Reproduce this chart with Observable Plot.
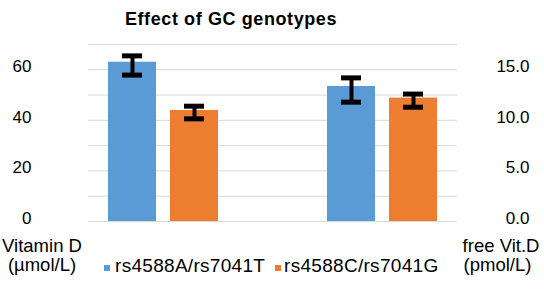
<!DOCTYPE html>
<html><head><meta charset="utf-8">
<script src="https://cdn.jsdelivr.net/npm/d3@7"></script>
<script src="https://cdn.jsdelivr.net/npm/@observablehq/plot@0.6"></script>
<style>
body{margin:0;background:#fff;font-family:"Liberation Sans",Arial,sans-serif;color:#000}
#wrap{position:relative;width:544px;height:292px;overflow:hidden;background:#fff}
#wrap svg{position:absolute;left:0;top:0}
.lbl{position:absolute;white-space:nowrap;line-height:1;font-size:18.5px;text-align:center}
.sw{position:absolute;width:6px;height:6px}
</style></head><body><div id="wrap"></div>
<script>
// ---- data ----
const categories = ["Vitamin D (µmol/L)", "free Vit.D (pmol/L)"];
const genotypes = ["rs4588A/rs7041T", "rs4588C/rs7041G"];
const colors = ["#5B9BD5", "#ED7D31"];
// Vitamin D (µmol/L), left axis
const vitaminD = [63.0, 43.9];
const vitaminDLo = [57.9, 40.6];
const vitaminDHi = [65.5, 45.6];
// free Vit.D (pmol/L), right axis
const freeVitD = [13.35, 12.2];
const freeVitDLo = [11.8, 11.3];
const freeVitDHi = [14.2, 12.6];
// axes
const leftTicks = [0, 20, 40, 60];
const rightTicks = [0, 5, 10, 15];
const gridTicks = [0, 10, 20, 30, 40, 50, 60, 70];
const leftMax = 70, rightMax = 17.5;
const ratio = leftMax / rightMax;

const rows = [];
genotypes.forEach((g, i) => {
  rows.push({cat: categories[0], g, v: vitaminD[i], lo: vitaminDLo[i], hi: vitaminDHi[i]});
  rows.push({cat: categories[1], g, v: freeVitD[i] * ratio, lo: freeVitDLo[i] * ratio, hi: freeVitDHi[i] * ratio});
});
const sA = rows.filter(d => d.g === genotypes[0]);
const sC = rows.filter(d => d.g === genotypes[1]);

const errMarks = (data, dx, capL, capR) => [
  Plot.ruleX(data, {x: "cat", y1: "lo", y2: "hi", dx, stroke: "#000", strokeWidth: 4}),
  Plot.tickY(data, {x: "cat", y: "hi", insetLeft: capL, insetRight: capR, stroke: "#000", strokeWidth: 5}),
  Plot.tickY(data, {x: "cat", y: "lo", insetLeft: capL, insetRight: capR, stroke: "#000", strokeWidth: 5})
];

const chart = Plot.plot({
  width: 544, height: 292,
  marginLeft: 88, marginRight: 87, marginTop: 44, marginBottom: 71,
  style: {fontFamily: "'Liberation Sans', Arial, sans-serif", fontSize: "17px", color: "#000", background: "transparent"},
  x: {type: "band", domain: categories, paddingInner: 109/219, paddingOuter: 20/219, axis: null},
  y: {domain: [0, leftMax], axis: null},
  marks: [
    Plot.gridY(gridTicks, {stroke: "#D9D9D9", strokeOpacity: 1, strokeWidth: 1}),
    Plot.barY(sA, {x: "cat", y: "v", fill: colors[0], insetRight: 62}),
    Plot.barY(sC, {x: "cat", y: "v", fill: colors[1], insetLeft: 62}),
    ...errMarks(sA, -31, 14, 76),
    ...errMarks(sC, 31, 76, 14),
    Plot.axisY(leftTicks, {anchor: "left", tickSize: 0, tickPadding: 57, dy: -3, label: null, style: "letter-spacing:1.2px"}),
    Plot.axisY(rightTicks.map(v => v * ratio), {anchor: "right", tickSize: 0, tickPadding: 72, dy: -3, textAnchor: "end", label: null,
      tickFormat: d => (d / ratio).toFixed(1)})
  ]
});
const wrap = document.getElementById("wrap");
wrap.appendChild(chart);

function lbl(text, cx, top, opts = {}) {
  const d = document.createElement("div");
  d.className = "lbl";
  d.textContent = text;
  d.style.left = (cx - 150) + "px";
  d.style.width = "300px";
  d.style.top = top + "px";
  if (opts.fs) d.style.fontSize = opts.fs + "px";
  if (opts.bold) d.style.fontWeight = "bold";
  if (opts.ls) d.style.letterSpacing = opts.ls + "px";
  if (opts.left != null) { d.style.left = opts.left + "px"; d.style.width = "auto"; d.style.textAlign = "left"; }
  wrap.appendChild(d);
}
lbl("Effect of GC genotypes", 231, 9.8, {fs: 18, bold: true, ls: 0.6});
lbl("Vitamin D", 42, 237.3);
lbl("(µmol/L)", 42, 256.4);
lbl("free Vit.D", 501, 237.3);
lbl("(pmol/L)", 497.5, 256.4);
const swX = [104, 275], txX = [115, 284];
genotypes.forEach((g, i) => {
  const s = document.createElement("div");
  s.className = "sw"; s.style.left = swX[i] + "px"; s.style.top = "265px"; s.style.background = colors[i];
  wrap.appendChild(s);
  lbl(g, 0, 255.6, {fs: 19, ls: 0.3, left: txX[i]});
});
</script></body></html>
